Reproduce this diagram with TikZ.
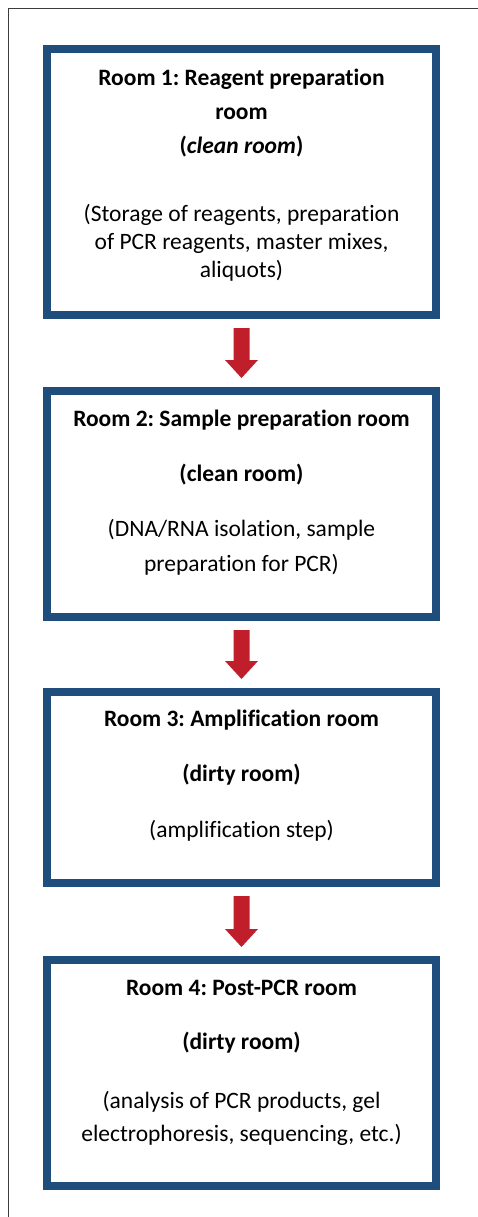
\documentclass[tikz,border=0pt]{standalone}
\usepackage{fontspec}
\setmainfont[Ligatures=NoCommon]{Carlito}
\usetikzlibrary{calc}
\definecolor{boxblue}{RGB}{31,78,125}
\definecolor{arrred}{RGB}{192,30,42}
\definecolor{framegray}{RGB}{60,60,60}
\frenchspacing
\tikzset{
  room/.style={draw=boxblue, line width=8pt, minimum width=389pt, inner sep=0pt},
  txt/.style={anchor=base, inner sep=0pt, font=\fontsize{23.5}{28}\selectfont},
  ttl/.style={anchor=base, inner sep=0pt, font=\fontsize{23.5}{28}\selectfont\bfseries},
  blockarrow/.style={fill=arrred}
}
\newcommand{\blockarr}[2]{%
  \fill[blockarrow] ($(#1.south)+(-8,9)$) -- ($(#2.north)+(-8,-27)$) -- ($(#2.north)+(-16.5,-27)$)
    -- ($(#2.north)+(0,-9)$) -- ($(#2.north)+(16.5,-27)$) -- ($(#2.north)+(8,-27)$)
    -- ($(#1.south)+(8,9)$) -- cycle;}
\begin{document}
\begin{tikzpicture}[x=1pt,y=-1pt]
\useasboundingbox (0,0) rectangle (478,1217);
\draw[framegray, line width=1.5pt] (8.5,1217) -- (8.5,8.5) -- (478,8.5);

% boxes
\node[room, minimum height=266pt] (r1) at (241.5,182) {};
\node[room, minimum height=226pt] (r2) at (241.5,504) {};
\node[room, minimum height=191pt] (r3) at (241.5,787.5) {};
\node[room, minimum height=226pt] (r4) at (241.5,1073) {};

% box 1 text
\node[ttl] (t1a) at (241.5,86) {Room 1: Reagent preparation};
\node[ttl] (t1b) at (241.5,120) {room};
\node[ttl] (t1c) at (241.5,154) {(\textit{clean room})};
\node[txt] (t1d) at (241.5,221) {(Storage of reagents, preparation};
\node[txt] (t1e) at (241.5,249) {of PCR reagents, master mixes,};
\node[txt] (t1f) at (241.5,277) {aliquots)};

% box 2 text
\node[ttl] (t2a) at (241.5,426) {Room 2: Sample preparation room};
\node[ttl] (t2b) at (241.5,481) {(clean room)};
\node[txt] (t2c) at (241.5,536) {(DNA/RNA isolation, sample};
\node[txt] (t2d) at (241.5,571) {preparation for PCR)};

% box 3 text
\node[ttl] (t3a) at (241.5,726) {Room 3: Amplification room};
\node[ttl] (t3b) at (241.5,781) {(dirty room)};
\node[txt] (t3c) at (241.5,837) {(amplification step)};

% box 4 text
\node[ttl] (t4a) at (241.5,995) {Room 4: Post-PCR room};
\node[ttl] (t4b) at (241.5,1049) {(dirty room)};
\node[txt] (t4c) at (241.5,1108) {(analysis of PCR products, gel};
\node[txt] (t4d) at (241.5,1141) {electrophoresis, sequencing, etc.)};

% arrows
\blockarr{r1}{r2}
\blockarr{r2}{r3}
\blockarr{r3}{r4}
\end{tikzpicture}
\end{document}
